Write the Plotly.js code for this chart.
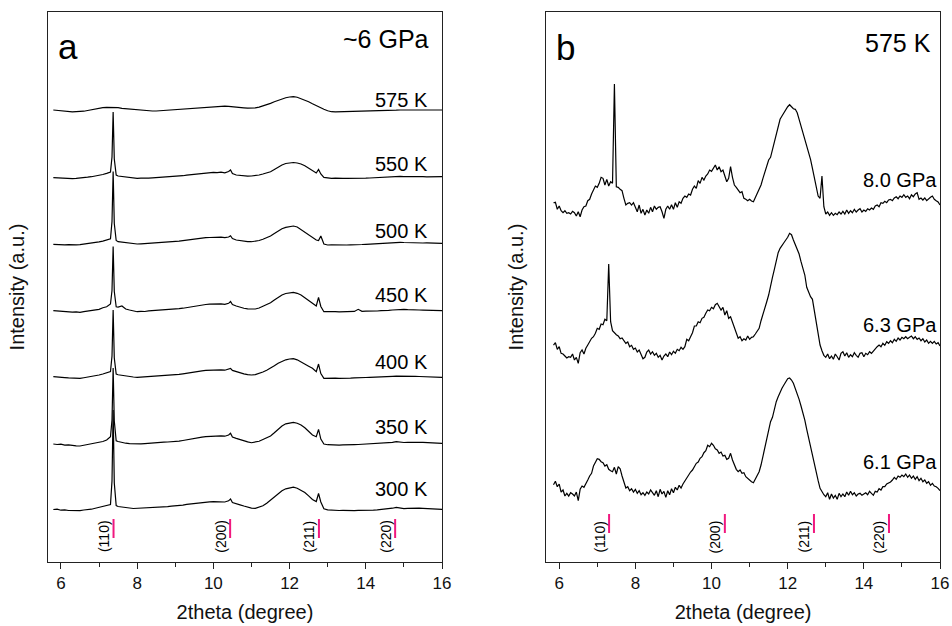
<!DOCTYPE html>
<html>
<head>
<meta charset="utf-8">
<script src="https://cdn.plot.ly/plotly-3.0.1.min.js"></script>
<style>html,body{margin:0;padding:0;background:#fff;}#chart{width:952px;height:626px;}</style>
</head>
<body>
<div id="chart"></div>
<script>
// ---------- Panel a : ~6 GPa, temperature series ----------
const twoThetaA = [5.8,5.9,6.0,6.1,6.2,6.3,6.4,6.5,6.6,6.7,6.8,6.9,7.0,7.1,7.2,
7.3,7.34,7.37,7.4,7.45,
7.5,7.6,7.7,7.8,7.9,8.0,8.1,8.2,8.3,8.4,8.5,8.6,8.7,8.8,8.9,9.0,9.1,9.2,9.3,9.4,9.5,9.6,9.7,9.8,9.9,10.0,10.1,10.2,10.3,10.4,
10.45,
10.5,10.6,10.7,10.8,10.9,11.0,11.1,11.2,11.3,11.4,11.5,11.6,11.7,11.8,11.9,12.0,12.1,12.2,12.3,12.4,12.5,12.6,12.7,
12.76,12.82,
12.9,13.0,13.1,13.2,13.3,13.4,13.5,13.6,13.7,13.8,13.9,14.0,14.1,14.2,14.3,14.4,14.5,14.6,14.7,14.8,14.9,15.0,15.1,15.2,15.3,15.4,15.5,15.6,15.7,15.8,15.9,16.0];

const tempLabels = ['575 K','550 K','500 K','450 K','400 K','350 K','300 K'];

const I575 = [2.5,2.0,1.6,1.2,1.0,0.7,0.9,0.8,1.3,2.0,2.8,3.5,4.2,4.8,5.2,
5.3,5.2,5.4,5.1,5.0,
4.8,4.2,3.8,3.2,2.8,2.4,2.0,1.8,1.6,1.5,1.5,1.8,2.0,2.3,2.6,2.9,3.2,3.5,3.8,4.0,4.2,4.6,5.0,5.4,5.8,6.1,6.4,6.5,6.3,6.1,
6.0,
5.8,5.4,5.0,4.6,4.3,4.2,4.6,5.4,6.5,7.8,9.2,10.8,12.3,13.6,14.8,15.5,15.8,15.3,14.0,12.5,10.8,8.8,6.8,
5.6,4.5,
3.2,1.8,0.8,0.6,0.7,0.5,0.8,0.6,0.8,0.7,0.9,0.8,1.1,1.0,1.3,1.5,1.7,1.9,2.1,2.3,2.5,2.5,2.6,2.5,2.7,2.6,2.5,2.6,2.4,2.5,2.5,2.5];

const I550 = [1.3,1.0,0.8,0.5,0.7,0.4,0.6,0.8,1.2,1.8,2.3,2.8,3.4,4.5,5.7,
7.0,22,67,20,4.0,
3.0,2.4,1.8,1.2,0.9,0.7,0.8,0.6,0.9,1.1,1.3,1.5,1.7,1.9,2.1,2.3,2.9,3.3,3.9,4.3,4.7,5.3,5.6,6.2,6.3,6.7,6.4,6.9,6.2,7.5,
9.0,
5.5,4.0,3.4,3.1,2.9,3.0,3.3,4.0,5.0,6.0,7.3,9.5,12.0,14.0,15.5,16.3,16.5,16.0,15.0,13.2,11.0,9.0,6.0,
9.5,5.0,
1.7,0.9,0.7,0.8,0.5,0.7,0.7,0.6,0.8,0.9,0.7,0.8,1.0,1.2,1.5,1.8,2.0,2.3,2.6,3.0,2.6,2.4,2.5,2.3,2.5,2.3,2.3,2.2,2.4,2.3,2.2,2.3];

const I500 = [1.2,0.9,1.1,0.6,0.8,0.5,0.6,0.9,1.3,1.7,2.4,3.0,3.6,4.4,5.5,
6.8,24,74,22,5.0,
3.8,3.2,2.6,2.2,1.8,1.5,1.7,1.9,2.2,2.5,2.8,3.0,3.2,3.4,3.6,3.8,4.3,4.8,5.4,6.0,6.5,7.0,7.4,7.8,8.0,8.2,8.0,8.3,7.9,8.5,
9.8,
7.0,5.5,4.8,4.3,3.9,3.8,4.2,5.0,6.3,7.8,9.5,12.0,14.6,16.8,18.2,19.0,19.5,18.5,16.0,13.5,11.0,8.2,5.5,
5.0,9.5,
1.5,0.5,0.6,0.4,0.5,0.3,0.5,0.7,0.6,0.9,1.0,1.2,1.5,1.8,2.0,2.3,2.6,2.9,3.2,3.6,3.2,3.0,2.8,2.9,2.6,2.8,2.5,2.6,2.4,2.5,2.3,2.2];

const I450 = [1.8,1.4,1.0,1.3,0.6,0.4,0.7,0.2,0.9,1.5,2.0,2.6,3.2,4.8,5.8,
8.5,22,66,21,5.8,
5.5,6.5,3.5,2.5,1.5,0.8,1.2,1.0,1.6,1.8,2.0,2.4,2.5,2.9,3.0,3.2,3.8,4.3,5.0,5.8,6.5,7.0,7.6,8.0,8.3,8.5,8.3,8.7,8.2,9.2,
11.0,
8.0,6.5,5.2,4.3,3.6,3.2,3.5,4.5,6.0,7.8,9.8,12.5,15.0,17.5,19.0,19.8,20.2,19.2,17.5,14.8,12.2,9.8,6.5,
15.2,6.0,
0.8,1.0,0.6,0.9,0.7,0.8,0.8,1.0,1.1,3.2,1.2,1.4,1.2,1.6,1.5,1.9,1.8,2.2,2.5,2.9,3.0,3.2,2.9,3.0,2.7,2.5,2.4,2.2,2.0,1.9,1.8,1.8];

const I400 = [2.3,1.8,2.0,1.4,1.1,0.9,1.2,0.7,1.3,1.8,2.4,3.1,4.0,5.0,6.3,
7.5,23,69,21,5.0,
4.3,3.6,2.9,2.5,2.0,1.7,1.9,2.1,2.5,2.8,3.0,3.2,3.5,3.7,3.8,4.0,4.6,5.2,5.9,6.6,7.3,7.8,8.2,8.6,8.8,9.0,8.8,9.2,8.8,9.6,
10.7,
8.6,7.3,6.1,5.2,4.4,4.0,4.4,5.4,7.0,8.8,10.7,13.2,15.8,17.8,19.2,20.0,20.3,19.2,17.3,15.0,12.8,10.7,7.3,
15.0,5.5,
0.7,0.9,0.6,0.8,0.7,0.6,0.7,0.9,1.1,1.0,1.3,1.5,1.6,1.9,2.0,2.2,2.3,2.5,2.7,2.8,2.9,3.0,2.9,2.8,2.6,2.5,2.3,2.2,2.0,1.9,1.8,1.7];

const I350 = [2.0,1.5,1.8,0.9,1.2,0.5,0.2,0.0,0.8,1.5,2.0,2.6,3.3,4.5,6.0,
9.3,26,78,25,5.3,
4.5,3.3,2.8,2.4,2.1,2.0,2.2,2.4,2.8,3.1,3.4,3.6,3.8,4.0,4.1,4.3,4.9,5.5,6.3,7.0,7.7,8.4,8.9,9.4,9.7,10.0,9.8,10.2,9.8,11.0,
12.7,
9.0,7.7,6.4,5.2,4.1,3.3,3.8,4.8,6.5,8.2,10.0,13.2,16.8,20.0,22.2,23.3,23.7,22.8,21.0,18.2,14.5,11.0,9.3,
16.7,7.0,
2.0,1.3,1.0,1.2,0.9,1.1,1.0,1.2,1.4,1.5,1.7,1.8,2.0,2.2,2.4,2.5,2.7,3.0,3.6,4.3,3.6,3.5,3.7,3.5,3.8,3.6,3.7,3.4,3.2,3.0,2.9,2.7];

const I300 = [1.5,1.8,0.8,1.2,0.5,0.3,0.0,0.4,1.0,1.3,1.8,2.8,3.6,4.2,5.0,
6.5,30,101,28,5.5,
4.5,3.8,3.2,3.0,2.5,2.7,2.4,2.9,3.1,3.4,3.7,3.9,4.2,4.4,4.8,5.0,5.5,5.9,6.6,7.1,7.7,8.2,8.6,9.0,9.2,9.3,9.1,9.4,9.0,10.2,
12.0,
8.5,7.0,6.2,5.0,3.8,2.9,2.7,3.6,5.2,7.8,11.0,14.2,17.5,20.3,22.2,23.3,23.8,22.8,21.0,18.5,15.2,11.5,9.5,
17.5,9.0,
2.2,1.2,0.8,1.0,0.5,0.6,0.3,0.5,0.4,0.6,0.5,0.4,0.7,0.9,1.2,1.5,1.8,2.2,2.8,3.7,2.9,2.4,2.6,2.9,2.5,2.8,2.7,2.5,2.2,2.0,1.9,1.7];

const seriesA = [I575, I550, I500, I450, I400, I350, I300];
const offsetsA = [449.5, 383, 316.5, 249.5, 183, 116, 51];   // vertical stacking
const labelYA  = [462, 398, 331, 267, 200, 135, 73];

// ---------- Panel b : 575 K, pressure series ----------
const twoThetaB = [5.85,5.9,5.95,6,6.05,6.1,6.15,6.2,6.25,6.3,6.35,6.4,6.45,6.5,6.55,6.6,6.65,6.7,6.75,6.8,6.85,6.9,6.95,7,7.05,7.1,7.15,7.2,7.25,7.3,7.35,7.4,7.45,7.5,7.55,7.6,7.65,7.7,7.75,7.8,7.85,7.9,7.95,8,8.05,8.1,8.15,8.2,8.25,8.3,8.35,8.4,8.45,8.5,8.55,8.6,8.65,8.7,8.75,8.8,8.85,8.9,8.95,9,9.05,9.1,9.15,9.2,9.25,9.3,9.35,9.4,9.45,9.5,9.55,9.6,9.65,9.7,9.75,9.8,9.85,9.9,9.95,10,10.05,10.1,10.15,10.2,10.25,10.3,10.35,10.4,10.45,10.5,10.55,10.6,10.65,10.7,10.75,10.8,10.85,10.9,
10.95,11,11.05,11.1,11.15,11.2,11.25,11.3,11.35,11.4,11.45,11.5,11.55,11.6,11.65,11.7,11.75,11.8,11.85,11.9,11.95,12,12.05,12.1,12.15,12.2,12.25,12.3,12.35,12.4,12.45,12.5,12.55,12.6,12.65,12.7,12.75,12.8,12.85,12.9,12.95,13,13.05,13.1,13.15,13.2,13.25,13.3,13.35,13.4,13.45,13.5,13.55,13.6,13.65,13.7,13.75,13.8,13.85,13.9,13.95,14,14.05,14.1,14.15,14.2,14.25,14.3,14.35,14.4,14.45,14.5,14.55,14.6,14.65,14.7,14.75,14.8,14.85,14.9,14.95,15,15.05,15.1,15.15,15.2,15.25,15.3,15.35,15.4,15.45,15.5,15.55,15.6,15.65,15.7,15.75,15.8,15.85,15.9,15.95,16];

const pressureLabels = ['8.0 GPa','6.3 GPa','6.1 GPa'];

const I80 = [17.3,17.7,10.7,14,9.3,7.3,9.3,6.7,7.3,6,
8.7,7.3,4,8.3,3.3,10,13.3,14,19.3,20.7,
26,30.7,34,32.7,36.7,42.7,41.7,35,40.7,34,
38.3,36.7,136,33.3,32.7,30.7,29.3,21.7,15,16.7,
17.3,15,17.3,12.7,8.3,15,6.7,10.7,5,10,
6.7,12.7,8.3,14,10.7,12.7,13.3,8.3,1.7,10.7,
14,10.7,15.3,10.7,17.3,12.7,18.3,16.7,21.7,24,
22.7,26,25,30.7,34,31.7,39.3,36.7,42.7,40,
44,46,50,48.7,51.7,55,50,53.3,48.3,50,
44,38.3,41.7,53.3,42.7,35,32.7,29.3,27.3,28.3,
21.7,20.7,
19.3,20.7,19,18.3,22.7,26,30,35,41.7,48.3,
55,60,62.7,70,79.3,86.7,94.7,100.7,104,107.3,
109.3,113.3,115.3,113.3,111.3,110.7,107.3,100.7,94,87.3,
82.7,75,67.3,60.7,51.7,41.7,33.3,24,21.7,44,
13.3,6,8,4.7,7.3,4.7,6.7,5.3,8,6,
8.7,6,10,6.7,9.3,7.3,10.7,8,10,11.3,
8,10,8.7,11.3,10,12,10.7,14,15,13.3,
17.3,16.7,18.7,17.3,20,20.7,19.3,22,23.3,21.3,
24,22.7,25.3,22.7,24,21.3,25.3,23.3,26,27.3,
20.7,22,20,22,19.3,21.3,22.7,24,20.7,19.3,
18,15];

const I63 = [17,19.3,12.7,15.3,8.7,8,6,4,5.3,4.7,
8,2,4.7,-1.3,9.3,12,8,13.7,17,20.3,
23.7,25.3,28.7,33.7,32.7,38,37.3,42.7,41.3,98,
40.3,31.3,28.7,27.3,26,23.3,24,20.7,18.7,20,
15.3,16.7,12.7,14,10,12,7,3.3,4.7,10,
12,8,10.3,6.7,8.7,4.7,6.7,2,6,8,
5.3,10,7.3,10.7,8.7,12.7,11.3,14.7,12.7,15.3,
22.7,21.3,25.3,29.3,36,36,40.3,39.3,43.7,44.7,
48.7,52,51.3,54.7,53.3,57.3,58.7,54.7,52,54.7,
47,51.3,43.7,45.3,40,34.7,28.7,23.7,25.3,21.3,
23.3,22,
26,22.7,24.7,25.3,28,30.3,33.7,41.3,47,54.7,
60.3,67,77,84.7,92.7,102.7,109.3,113.7,116,119.3,
122,124.7,128.7,127.3,122,117,112,108,100.3,93.7,
87,74.7,69.3,65.3,62.7,50.3,40.3,28.7,17,11.3,
6.7,4.7,8,3.3,6,2.7,8,5.3,2,8.7,
10.3,6,9.3,4.7,7.3,5.3,9.3,6.7,4.7,8.7,
9.3,5.3,8.7,7.3,10.3,8.7,11.3,13.3,15.3,17,
15.3,18.7,16.7,20.3,18.7,21.3,19.3,22.7,20.7,24,
22,24.7,23.3,25.3,23.3,24.7,26,23.3,25.3,22.7,
24,21.3,23.3,20,22,18.7,20.7,18.7,20.7,18,
19.3,16];

const I61 = [20.3,23.7,18.3,21,13,15,9,11.7,9,12.3,
11,9,13,4.3,15.7,19,17.7,22.3,25,29,
31.7,39,43.3,46.3,45.7,43.3,42.3,39,40.3,35.7,
34.3,33.3,37.7,31,38.3,36.3,29,21.7,17,18.3,
14.3,16.3,13,15.7,11.7,14.3,10.3,12.3,9.7,13,
11,15,12.3,9.7,14.3,8.3,15.7,11,13.7,7.7,
14.3,10.3,16.3,12.3,17.7,15,19.7,17,21,24.3,
26.3,30.3,33,35,38.3,41.7,43,46.7,48.3,52.3,
54.3,59.7,58.3,61.7,59.7,56.3,55,51.7,53,49,
49.7,45.7,46.7,51.7,45,39.7,35.7,33.3,35,31.7,
32.3,28.3,
26.3,25,23.3,22.3,25.7,29.7,33.3,40,48.3,58.3,
66.7,75.7,83.3,87.7,95.7,103.3,108.3,113.3,116.7,120,
123,126.3,127,125,121.7,116.7,111,105.7,99,92.3,
85,75.7,66.7,61,51,41,32.3,24.3,16.7,13,
10.3,8.3,12.3,5.7,11,7,9.7,5.7,11.7,8.3,
11,8.3,13,9.7,13.7,10.3,12.3,9,11,11.7,
9.7,11,12.3,10.3,13.7,11.7,9.7,13.7,13,16.3,
15,18.3,18.3,21,21.7,23,25,27.7,25.7,29,
27.7,30,28.3,31,27.7,30,26.7,29,25.7,28.3,
24.3,26.7,23.3,25,21.7,23.3,19.7,21.7,19,18.3,
16.7,14.3];

const seriesB = [I80, I63, I61];
const offsetsB = [342, 200, 57];
const labelYB  = [382, 237, 100.5];

// ---------- Reflection markers ----------
const hkl = ['(110)','(200)','(211)','(220)'];
const hklPosA = [7.38, 10.44, 12.77, 14.77];
const hklPosB = [7.31, 10.35, 12.69, 14.66];

// ---------- Build figure ----------
const FONT = 'Liberation Sans, Arial, Helvetica, sans-serif';
const PINK = '#f0187f';
const traces = [];
seriesA.forEach((s, i) => {
  traces.push({x: twoThetaA, y: s.map(v => v + offsetsA[i]), type: 'scatter', mode: 'lines',
    name: tempLabels[i], xaxis: 'x', yaxis: 'y', line: {color: '#000', width: 1.2}, hoverinfo: 'skip'});
});
seriesB.forEach((s, i) => {
  traces.push({x: twoThetaB, y: s.map(v => v + offsetsB[i]), type: 'scatter', mode: 'lines',
    name: pressureLabels[i], xaxis: 'x2', yaxis: 'y2', line: {color: '#000', width: 1.2}, hoverinfo: 'skip'});
});

const annotations = [];
const shapes = [];
tempLabels.forEach((t, i) => annotations.push({xref: 'x', yref: 'y', x: 15.68, y: labelYA[i], text: t,
  showarrow: false, xanchor: 'right', yanchor: 'middle', font: {size: 20, family: FONT, color: '#000'}}));
pressureLabels.forEach((t, i) => annotations.push({xref: 'x2', yref: 'y2', x: 15.97, y: labelYB[i], text: t,
  showarrow: false, xanchor: 'right', yanchor: 'middle', font: {size: 20, family: FONT, color: '#000'}}));

[[hklPosA, 'x', 'y', 24, 43], [hklPosB, 'x2', 'y2', 29, 48]].forEach(([pos, xr, yr, y0, y1]) => {
  pos.forEach((p, k) => {
    shapes.push({type: 'line', xref: xr, yref: yr, x0: p, x1: p, y0: y0, y1: y1, line: {color: PINK, width: 2}});
    annotations.push({xref: xr, yref: yr, x: p, y: 25.5, xshift: -10, text: hkl[k], textangle: -90,
      showarrow: false, xanchor: 'center', yanchor: 'middle', font: {size: 14, family: FONT, color: '#000'}});
  });
});

annotations.push({xref: 'x', yref: 'y', x: 5.87, y: 516, text: 'a', showarrow: false, xanchor: 'left', yanchor: 'middle',
  font: {size: 35, family: FONT, color: '#000'}});
annotations.push({xref: 'x', yref: 'y', x: 15.7, y: 523, text: '~6 GPa', showarrow: false, xanchor: 'right', yanchor: 'middle',
  font: {size: 25, family: FONT, color: '#000'}});
annotations.push({xref: 'x2', yref: 'y2', x: 5.87, y: 515, text: 'b', showarrow: false, xanchor: 'left', yanchor: 'middle',
  font: {size: 35, family: FONT, color: '#000'}});
annotations.push({xref: 'x2', yref: 'y2', x: 15.82, y: 519, text: '575 K', showarrow: false, xanchor: 'right', yanchor: 'middle',
  font: {size: 25, family: FONT, color: '#000'}});

function xax(domain, anchor) {
  return {domain: domain, anchor: anchor, range: [5.66, 16], showline: true, mirror: true, linecolor: '#222', linewidth: 1,
    ticks: 'outside', ticklen: 6, tickwidth: 1, tickcolor: '#222', tick0: 0, dtick: 2,
    minor: {dtick: 1, ticks: 'outside', ticklen: 4, tickwidth: 1, tickcolor: '#222'},
    showgrid: false, zeroline: false, tickfont: {size: 17, family: FONT, color: '#111'},
    title: {text: '2theta (degree)', font: {size: 20, family: FONT, color: '#111'}, standoff: 12}, fixedrange: true};
}
function yax(domain, anchor) {
  return {domain: domain, anchor: anchor, range: [0, 550], showline: true, mirror: true, linecolor: '#222', linewidth: 1,
    ticks: '', showticklabels: false, showgrid: false, zeroline: false,
    title: {text: 'Intensity (a.u.)', font: {size: 20, family: FONT, color: '#111'}, standoff: 16}, fixedrange: true};
}

const layout = {
  width: 952, height: 626, margin: {l: 0, r: 0, t: 0, b: 0},
  paper_bgcolor: '#fff', plot_bgcolor: '#fff', showlegend: false,
  font: {family: FONT, color: '#111'},
  xaxis: xax([0.0504, 0.4643], 'y'),
  yaxis: yax([0.1022, 0.9808], 'x'),
  xaxis2: xax([0.5738, 0.9874], 'y2'),
  yaxis2: yax([0.1022, 0.9808], 'x2'),
  annotations: annotations, shapes: shapes
};

Plotly.newPlot('chart', traces, layout, {staticPlot: true, displayModeBar: false});
</script>
</body>
</html>
